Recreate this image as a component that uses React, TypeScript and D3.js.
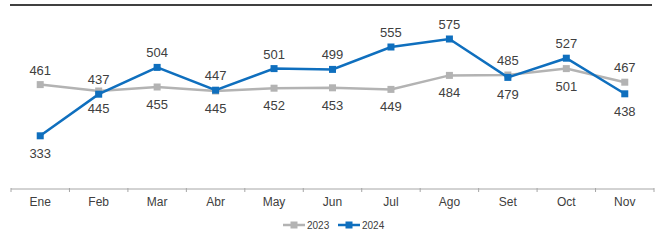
import React, {FC, useEffect, useRef} from 'react';
import * as d3 from 'd3';

const months = ['Ene', 'Feb', 'Mar', 'Abr', 'May', 'Jun', 'Jul', 'Ago', 'Set', 'Oct', 'Nov'];
const values2023 = [461, 445, 455, 445, 452, 453, 449, 484, 485, 501, 467];
const values2024 = [333, 437, 504, 447, 501, 499, 555, 575, 479, 527, 438];
const seriesNames = ['2023', '2024'];
// label placement of 2024 per month (2023 goes on the other side)
const labelAbove2024 = [false, true, true, true, true, true, true, true, false, true, false];

const W = 661;
const H = 240;
const GRAY = '#b3b3b3';
const BLUE = '#0f6fbe';
const TEXT = '#404040';

const App: FC = () => {
  const ref = useRef<SVGSVGElement>(null);

  useEffect(() => {
    const svg = d3.select(ref.current);
    svg.selectAll('*').remove();
    const font = 'Liberation Sans, Arial, sans-serif';

    // top rule
    svg
      .append('line')
      .attr('x1', 10)
      .attr('x2', 652)
      .attr('y1', 5)
      .attr('y2', 5)
      .attr('stroke', '#404040')
      .attr('stroke-width', 2);

    const x = d3.scaleBand<string>().domain(months).range([11, 654]).padding(0);
    const cx = (m: string) => (x(m) as number) + x.bandwidth() / 2;
    const y = d3.scaleLinear().domain([200, 660]).range([189, 5]);

    // x axis
    const axisY = 189;
    svg
      .append('line')
      .attr('x1', 11)
      .attr('x2', 654)
      .attr('y1', axisY)
      .attr('y2', axisY)
      .attr('stroke', '#a6a6a6')
      .attr('stroke-width', 1);
    const edges = months.map(m => x(m) as number).concat([654]);
    svg
      .selectAll('.tick')
      .data(edges)
      .enter()
      .append('line')
      .attr('x1', d => d)
      .attr('x2', d => d)
      .attr('y1', axisY - 1)
      .attr('y2', axisY + 3)
      .attr('stroke', '#a6a6a6');
    svg
      .selectAll('.xlab')
      .data(months)
      .enter()
      .append('text')
      .attr('x', d => cx(d))
      .attr('y', 206)
      .attr('text-anchor', 'middle')
      .attr('font-family', font)
      .attr('font-size', 12)
      .attr('fill', TEXT)
      .text(d => d);

    const series = [
      {name: seriesNames[0], values: values2023, color: GRAY},
      {name: seriesNames[1], values: values2024, color: BLUE},
    ];

    const line = d3
      .line<number>()
      .x((_, i) => cx(months[i]))
      .y(d => y(d));

    series.forEach(s => {
      svg
        .append('path')
        .attr('d', line(s.values) as string)
        .attr('fill', 'none')
        .attr('stroke', s.color)
        .attr('stroke-width', 2.5);
      svg
        .selectAll(null)
        .data(s.values)
        .enter()
        .append('rect')
        .attr('x', (_, i) => cx(months[i]) - 3.5)
        .attr('y', d => y(d) - 3.5)
        .attr('width', 7)
        .attr('height', 7)
        .attr('fill', s.color);
    });

    // value labels
    series.forEach((s, si) => {
      svg
        .selectAll(null)
        .data(s.values)
        .enter()
        .append('text')
        .attr('x', (_, i) => cx(months[i]))
        .attr('y', (d, i) => {
          const above = si === 1 ? labelAbove2024[i] : !labelAbove2024[i];
          return above ? y(d) - 10 : y(d) + 22;
        })
        .attr('text-anchor', 'middle')
        .attr('font-family', font)
        .attr('font-size', 13)
        .attr('fill', TEXT)
        .text(d => d);
    });

    // legend
    const legend = svg.append('g').attr('transform', 'translate(283, 225)');
    series.forEach((s, i) => {
      const g = legend.append('g').attr('transform', `translate(${i * 55}, 0)`);
      g.append('line')
        .attr('x1', 0)
        .attr('x2', 22)
        .attr('y1', 0)
        .attr('y2', 0)
        .attr('stroke', s.color)
        .attr('stroke-width', 2.5);
      g.append('rect').attr('x', 7.5).attr('y', -3.5).attr('width', 7).attr('height', 7).attr('fill', s.color);
      g.append('text')
        .attr('x', 24)
        .attr('y', 3.5)
        .attr('font-family', font)
        .attr('font-size', 10)
        .attr('fill', TEXT)
        .text(s.name);
    });
  }, []);

  return (
    <svg
      ref={ref}
      width={W}
      height={H}
      style={{position: 'absolute', left: 0, top: 0, background: '#fff'}}
    />
  );
};

export default App;
